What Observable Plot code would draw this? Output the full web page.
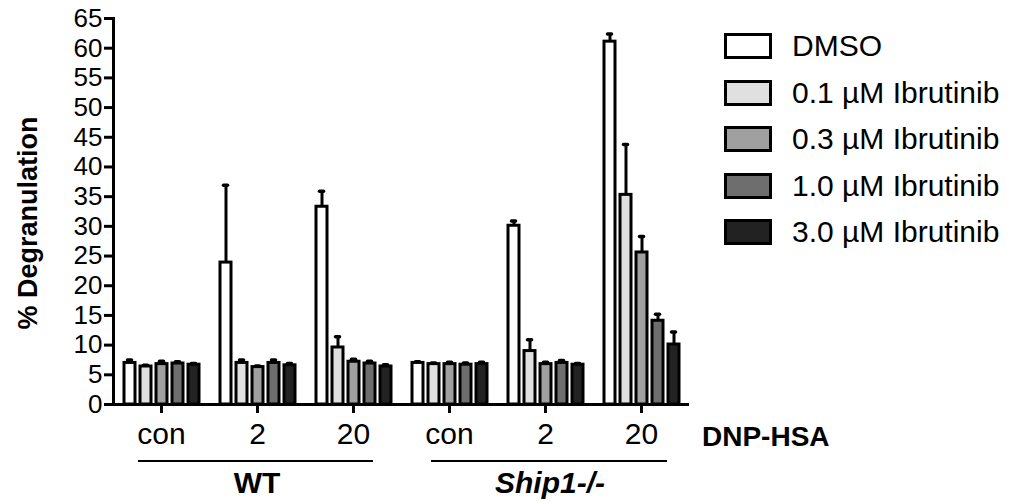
<!DOCTYPE html>
<html>
<head>
<meta charset="utf-8">
<script src="https://cdn.jsdelivr.net/npm/d3@7"></script>
<script src="https://cdn.jsdelivr.net/npm/@observablehq/plot@0.6"></script>
<style>
  html, body { margin: 0; padding: 0; background: #fff; }
  #wrap { position: relative; width: 1011px; height: 504px; font-family: "Liberation Sans", Arial, sans-serif; color: #000; overflow: hidden; }
  #wrap svg [aria-label*="axis"] path, #wrap svg [aria-label*="axis"] line, #wrap svg [aria-label="frame"] { stroke-width: 3px; }
  #wrap svg g[aria-label="y-axis tick label"], #wrap svg g[aria-label="y-axis tick label"] text { font-size: 26px; }
  .ann { position: absolute; white-space: nowrap; line-height: 1; }
  .ylab { position: absolute; left: 28px; top: 223px; transform: translate(-50%, -50%) rotate(-90deg); font-weight: bold; font-size: 27px; white-space: nowrap; line-height: 1; }
  .gline { position: absolute; height: 0; border-top: 2px solid #000; }
  .legend { position: absolute; left: 724px; top: 33px; }
  .lrow { display: flex; align-items: center; height: 26px; margin-bottom: 20.5px; }
  .sw { width: 42px; height: 20px; border: 3px solid #000; }
  .lt { margin-left: 20px; font-size: 30px; line-height: 1; }
</style>
</head>
<body>
<div id="wrap"></div>
<script>
// ---- data ----
const genotypes = ["WT", "Ship1-/-"];
const doses = ["con", "2", "20"];               // DNP-HSA
const treatments = ["DMSO", "0.1 µM Ibrutinib", "0.3 µM Ibrutinib", "1.0 µM Ibrutinib", "3.0 µM Ibrutinib"];
const colors = ["#ffffff", "#e0e0e0", "#a0a0a0", "#6e6e6e", "#222222"];
const yTicks = [0, 5, 10, 15, 20, 25, 30, 35, 40, 45, 50, 55, 60, 65];
// mean % degranulation per group (WT con, WT 2, WT 20, Ship con, Ship 2, Ship 20)
const dmso = [7.0, 23.9, 33.3, 7.0, 30.1, 61.1];
const ib01 = [6.4, 7.0, 9.6, 6.8, 9.0, 35.3];
const ib03 = [6.8, 6.3, 7.2, 6.8, 6.8, 25.6];
const ib10 = [6.9, 7.0, 6.9, 6.7, 7.0, 14.1];
const ib30 = [6.7, 6.6, 6.4, 6.8, 6.7, 10.1];
// upper error (SEM)
const dmsoErr = [0.5, 13.0, 2.6, 0.2, 0.8, 1.3];
const ib01Err = [0.2, 0.5, 1.8, 0.2, 1.9, 8.5];
const ib03Err = [0.5, 0.2, 0.4, 0.3, 0.3, 2.7];
const ib10Err = [0.3, 0.5, 0.4, 0.3, 0.4, 1.1];
const ib30Err = [0.2, 0.3, 0.3, 0.3, 0.2, 2.1];

// ---- build table ----
const groupKeys = [];
genotypes.forEach(g => doses.forEach(d => groupKeys.push(g + "|" + d)));
const series = [dmso, ib01, ib03, ib10, ib30];
const errs = [dmsoErr, ib01Err, ib03Err, ib10Err, ib30Err];
const rows = [];
groupKeys.forEach((k, gi) => treatments.forEach((t, ti) => {
  rows.push({group: k, treatment: t, value: series[ti][gi], err: errs[ti][gi]});
}));

const plot = Plot.plot({
  width: 1011,
  height: 504,
  marginLeft: 112,
  marginRight: 322,
  marginTop: 18,
  marginBottom: 100,
  style: {fontFamily: "'Liberation Sans', Arial, sans-serif", fontSize: "30px", color: "#000", background: "transparent", overflow: "visible"},
  fx: {domain: groupKeys, padding: 0, label: null, tickSize: 9, tickPadding: 9, tickFormat: k => k.split("|")[1]},
  x: {domain: treatments, paddingInner: 0.34, paddingOuter: 0.55, axis: null},
  y: {domain: [0, 65], ticks: yTicks, tickSize: 9, tickPadding: 2, line: true, label: null},
  color: {domain: treatments, range: colors},
  marks: [
    Plot.ruleX(rows, {fx: "group", x: "treatment", y1: "value", y2: d => d.value + d.err, stroke: "#000", strokeWidth: 3}),
    Plot.tickY(rows, {fx: "group", x: "treatment", y: d => d.value + d.err, stroke: "#000", strokeWidth: 3.5, strokeLinecap: "round", insetLeft: 3.5, insetRight: 3.5}),
    Plot.barY(rows, {fx: "group", x: "treatment", y: "value", fill: "treatment", stroke: "#000", strokeWidth: 3}),
    Plot.ruleY([0], {stroke: "#000", strokeWidth: 3})
  ]
});

const wrap = document.getElementById("wrap");
wrap.appendChild(plot);
plot.style.position = "absolute";
plot.style.left = "0px";
plot.style.top = "0px";

// y-axis title
const yl = document.createElement("div");
yl.className = "ylab";
yl.textContent = "% Degranulation";
wrap.appendChild(yl);

// DNP-HSA label
const dnp = document.createElement("div");
dnp.className = "ann";
dnp.style.left = "702px"; dnp.style.top = "423px"; dnp.style.fontSize = "28px"; dnp.style.fontWeight = "bold";
dnp.textContent = "DNP-HSA";
wrap.appendChild(dnp);

// genotype group lines + labels
const gInfo = [
  {name: genotypes[0], x1: 138, x2: 373, cx: 257, italic: false},
  {name: genotypes[1], x1: 431, x2: 667, cx: 550, italic: true}
];
gInfo.forEach(g => {
  const ln = document.createElement("div");
  ln.className = "gline";
  ln.style.left = g.x1 + "px"; ln.style.width = (g.x2 - g.x1) + "px"; ln.style.top = "460px";
  wrap.appendChild(ln);
  const lb = document.createElement("div");
  lb.className = "ann";
  lb.style.left = g.cx + "px"; lb.style.top = "468px"; lb.style.fontSize = "30px"; lb.style.fontWeight = "bold";
  lb.style.transform = "translateX(-50%)";
  if (g.italic) lb.style.fontStyle = "italic";
  lb.textContent = g.name;
  wrap.appendChild(lb);
});

// legend
const leg = document.createElement("div");
leg.className = "legend";
treatments.forEach((t, i) => {
  const r = document.createElement("div");
  r.className = "lrow";
  const s = document.createElement("div");
  s.className = "sw"; s.style.background = colors[i];
  const l = document.createElement("span");
  l.className = "lt"; l.textContent = t;
  r.appendChild(s); r.appendChild(l);
  leg.appendChild(r);
});
wrap.appendChild(leg);
</script>
</body>
</html>
